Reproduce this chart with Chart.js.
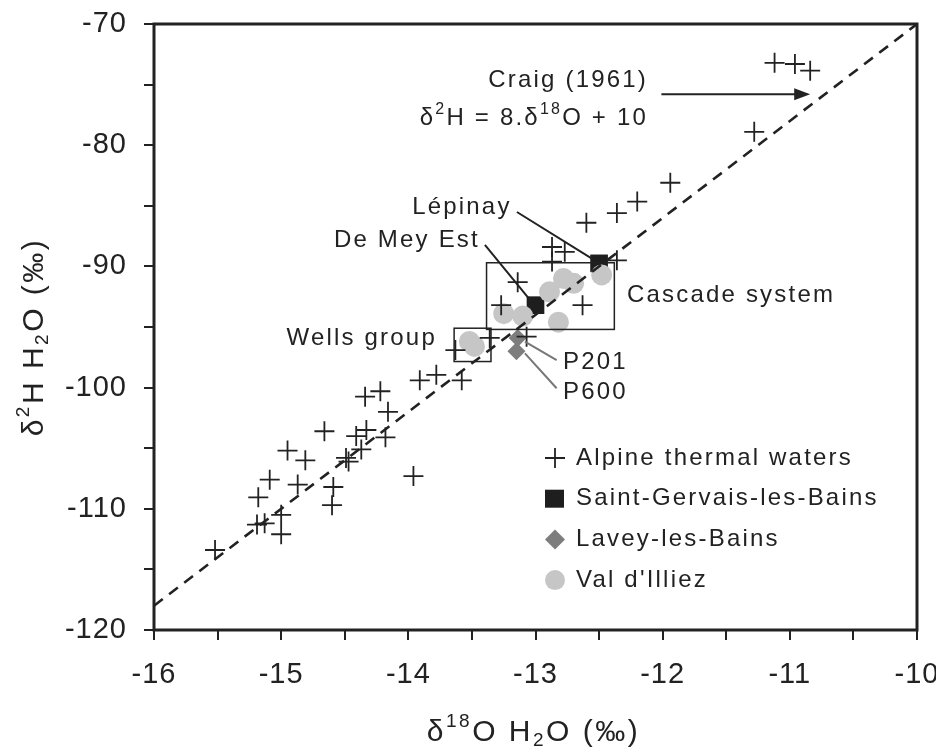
<!DOCTYPE html>
<html>
<head>
<meta charset="utf-8">
<script src="https://cdn.jsdelivr.net/npm/chart.js@4.4.1/dist/chart.umd.min.js"></script>
<style>
  html, body { margin: 0; padding: 0; background: #fff; }
  #wrap { width: 936px; height: 754px; }
</style>
</head>
<body>
<div id="wrap"><canvas id="chart"></canvas></div>
<script>
const FONT = "'Liberation Sans', Arial, sans-serif";
const INK = '#222';

// axis ranges
const xRange = [-16, -10];
const yRange = [-120, -70];

// Alpine thermal waters (crosses)
const alpineX = [-15.52, -15.19, -15.13, -15.00, -15.00, -15.18, -15.09, -14.95, -14.81, -14.87,
  -14.66, -14.59, -14.60, -14.49, -14.47, -14.41, -14.37, -14.33, -14.34, -14.22,
  -14.16, -14.18, -13.96, -13.91, -13.78, -13.58, -13.63, -13.36, -13.07, -13.27,
  -13.14, -12.63, -12.87, -12.77, -12.87, -12.36, -12.60, -12.36, -12.20, -11.94,
  -11.28, -11.12, -10.96, -10.84];
const alpineY = [-113.4, -111.3, -111.2, -110.5, -112.1, -109.05, -107.6, -105.2, -106.0, -108.0,
  -103.6, -108.2, -109.7, -105.8, -106.1, -104.0, -105.1, -103.5, -100.75, -100.3,
  -102.0, -104.1, -107.3, -99.4, -98.95, -99.4, -96.9, -95.9, -95.8, -93.2,
  -91.3, -93.2, -88.4, -88.8, -89.6, -89.5, -86.4, -85.6, -84.65, -83.1,
  -78.9, -73.2, -73.3, -73.85];

// Saint-Gervais-les-Bains (De Mey Est, Lépinay)
const sgX = [-13.0, -12.5];
const sgY = [-93.2, -89.75];

// Lavey-les-Bains (P201, P600)
const laveyX = [-13.14, -13.15];
const laveyY = [-95.9, -97.0];

// Val d'Illiez
const illiezX = [-13.52, -13.48, -13.25, -13.10, -12.89, -12.78, -12.70, -12.82, -12.48];
const illiezY = [-96.2, -96.6, -93.9, -94.1, -92.1, -91.0, -91.4, -94.6, -90.7];

// Craig (1961) meteoric water line end points
const craigX = [-16, -10];
const craigY = [-118, -70];

// boxes: [x1, x2, y1, y2]
const boxes = [
  [-13.64, -13.35, -97.85, -95.1],   // Wells group
  [-13.385, -12.38, -95.2, -89.7]    // Cascade system
];

// leader lines: [x1, y1, x2, y2, colour]
const leaders = [
  [-13.146, -85.51, -12.55, -89.4, INK],      // Lépinay
  [-13.398, -88.23, -13.04, -92.8, INK],      // De Mey Est
  [-13.083, -96.21, -12.834, -97.73, '#777'], // P201
  [-13.083, -97.17, -12.834, -100.05, '#777'] // P600
];

// labels: text, x, y, align
const notes = [
  ['Lépinay', -13.97, -85.1, 'left'],
  ['De Mey Est', -13.437, -87.82, 'right'],
  ['Cascade system', -12.281, -92.36, 'left'],
  ['Wells group', -13.775, -95.91, 'right'],
  ['P201', -12.784, -97.89, 'left'],
  ['P600', -12.784, -100.36, 'left'],
  ['Craig (1961)', -12.115, -74.62, 'right']
];

const legendItems = ['Alpine thermal waters', 'Saint-Gervais-les-Bains', 'Lavey-les-Bains', "Val d'Illiez"];

const zip = (xs, ys) => xs.map((x, i) => ({ x: x, y: ys[i] }));

// draw a run of text pieces: [text, scale, shift]
function richText(ctx, parts, size, x, y, align) {
  let w = 0;
  parts.forEach(p => {
    ctx.font = Math.round(size * (p[1] || 1)) + 'px ' + FONT;
    w += ctx.measureText(p[0]).width;
  });
  let cx = align === 'right' ? x - w : align === 'center' ? x - w / 2 : x;
  parts.forEach(p => {
    ctx.font = Math.round(size * (p[1] || 1)) + 'px ' + FONT;
    ctx.fillText(p[0], cx, y + (p[2] || 0) * size);
    cx += ctx.measureText(p[0]).width;
  });
}

const decor = {
  id: 'decor',
  beforeDraw(chart) {
    chart.ctx.letterSpacing = '1px';
  },
  afterDraw(chart) {
    const { ctx, chartArea: a, scales: { x, y } } = chart;
    const px = v => x.getPixelForValue(v);
    const py = v => y.getPixelForValue(v);
    ctx.save();
    ctx.strokeStyle = INK;
    ctx.fillStyle = INK;

    // plot frame
    ctx.lineWidth = 3;
    ctx.strokeRect(a.left, a.top, a.right - a.left, a.bottom - a.top);

    // group boxes
    ctx.lineWidth = 1.5;
    boxes.forEach(b => {
      ctx.strokeRect(px(b[0]), py(b[3]), px(b[1]) - px(b[0]), py(b[2]) - py(b[3]));
    });

    // leader lines
    leaders.forEach(l => {
      ctx.strokeStyle = l[4];
      ctx.lineWidth = 2;
      ctx.beginPath();
      ctx.moveTo(px(l[0]), py(l[1]));
      ctx.lineTo(px(l[2]), py(l[3]));
      ctx.stroke();
    });

    // arrow to the Craig line
    const ax1 = px(-12.01), ax2 = px(-10.84), ay = py(-75.8);
    ctx.strokeStyle = INK;
    ctx.lineWidth = 2;
    ctx.beginPath();
    ctx.moveTo(ax1, ay);
    ctx.lineTo(ax2 - 12, ay);
    ctx.stroke();
    ctx.beginPath();
    ctx.moveTo(ax2, ay);
    ctx.lineTo(ax2 - 16, ay - 6);
    ctx.lineTo(ax2 - 16, ay + 6);
    ctx.closePath();
    ctx.fill();

    // annotations
    ctx.letterSpacing = '2.2px';
    ctx.textBaseline = 'middle';
    ctx.textAlign = 'left';
    notes.forEach(n => richText(ctx, [[n[0]]], 24, px(n[1]), py(n[2]), n[3]));
    richText(ctx, [['δ'], ['2', 0.65, -0.35], ['H = 8.δ'], ['18', 0.65, -0.35], ['O + 10']],
      24, px(-12.115), py(-77.76), 'right');

    // legend
    const lx = a.right - 362, ly = a.bottom - 172, step = 40.7;
    ctx.lineWidth = 1.8;
    ctx.strokeStyle = INK;
    ctx.beginPath();
    ctx.moveTo(lx - 10, ly); ctx.lineTo(lx + 10, ly);
    ctx.moveTo(lx, ly - 10); ctx.lineTo(lx, ly + 10);
    ctx.stroke();
    ctx.fillStyle = '#1e1e1e';
    ctx.fillRect(lx - 10, ly + step - 9, 19, 18);
    ctx.fillStyle = '#7d7d7d';
    ctx.beginPath();
    ctx.moveTo(lx, ly + 2 * step - 10);
    ctx.lineTo(lx + 10, ly + 2 * step);
    ctx.lineTo(lx, ly + 2 * step + 10);
    ctx.lineTo(lx - 10, ly + 2 * step);
    ctx.closePath();
    ctx.fill();
    ctx.fillStyle = '#c6c6c6';
    ctx.beginPath();
    ctx.arc(lx, ly + 3 * step, 10, 0, Math.PI * 2);
    ctx.fill();
    ctx.fillStyle = INK;
    legendItems.forEach((t, i) => richText(ctx, [[t]], 24, lx + 21, ly + i * step, 'left'));

    // axis titles
    ctx.letterSpacing = '2.5px';
    richText(ctx, [['δ'], ['18', 0.62, -0.38], ['O H'], ['2', 0.62, 0.25], ['O (‰)']],
      30, (a.left + a.right) / 2 - 2, a.bottom + 103, 'center');
    ctx.save();
    ctx.translate(35, (a.top + a.bottom) / 2 + 10);
    ctx.rotate(-Math.PI / 2);
    richText(ctx, [['δ'], ['2', 0.62, -0.38], ['H H'], ['2', 0.62, 0.25], ['O (‰)']],
      30, 0, 0, 'center');
    ctx.restore();

    ctx.restore();
  }
};

new Chart(document.getElementById('chart'), {
  data: {
    datasets: [
      {
        type: 'scatter', label: 'Saint-Gervais-les-Bains', data: zip(sgX, sgY), order: 5,
        pointStyle: 'rect', pointRadius: 12.5, backgroundColor: '#1e1e1e', borderColor: '#1e1e1e', borderWidth: 0
      },
      {
        type: 'scatter', label: "Val d'Illiez", data: zip(illiezX, illiezY), order: 4,
        pointStyle: 'circle', pointRadius: 10.5, backgroundColor: '#c6c6c6', borderColor: '#c6c6c6', borderWidth: 0
      },
      {
        type: 'scatter', label: 'Lavey-les-Bains', data: zip(laveyX, laveyY), order: 3,
        pointStyle: 'rectRot', pointRadius: 9, backgroundColor: '#7d7d7d', borderColor: '#7d7d7d', borderWidth: 0
      },
      {
        type: 'line', label: 'Craig (1961)', data: zip(craigX, craigY), order: 2,
        borderColor: INK, borderWidth: 2.6, borderDash: [11, 8], pointRadius: 0, fill: false
      },
      {
        type: 'scatter', label: 'Alpine thermal waters', data: zip(alpineX, alpineY), order: 1,
        pointStyle: 'cross', pointRadius: 10, borderColor: INK, borderWidth: 1.8
      }
    ]
  },
  options: {
    responsive: true,
    maintainAspectRatio: false,
    animation: false,
    layout: { padding: { left: 0, top: 24, right: 19, bottom: 0 }, autoPadding: false },
    plugins: { legend: { display: false }, tooltip: { enabled: false } },
    scales: {
      x: {
        type: 'linear', min: xRange[0], max: xRange[1],
        border: { display: false },
        grid: { drawOnChartArea: false, drawTicks: true, tickLength: 10, color: INK, lineWidth: 2 },
        ticks: {
          stepSize: 0.5, autoSkip: false, maxRotation: 0, padding: 18, color: INK,
          font: { family: FONT, size: 29 },
          callback: v => Number.isInteger(v) ? String(v) : ''
        },
        afterFit(s) { s.height = 124; s.paddingLeft = 0; s.paddingRight = 0; }
      },
      y: {
        type: 'linear', min: yRange[0], max: yRange[1],
        border: { display: false },
        grid: { drawOnChartArea: false, drawTicks: true, tickLength: 10, color: INK, lineWidth: 2 },
        ticks: {
          stepSize: 5, autoSkip: false, padding: 17, color: INK,
          font: { family: FONT, size: 29 },
          callback: v => v % 10 === 0 ? String(v) : ''
        },
        afterFit(s) { s.width = 154; s.paddingTop = 0; s.paddingBottom = 0; }
      }
    }
  },
  plugins: [decor]
});
</script>
</body>
</html>
